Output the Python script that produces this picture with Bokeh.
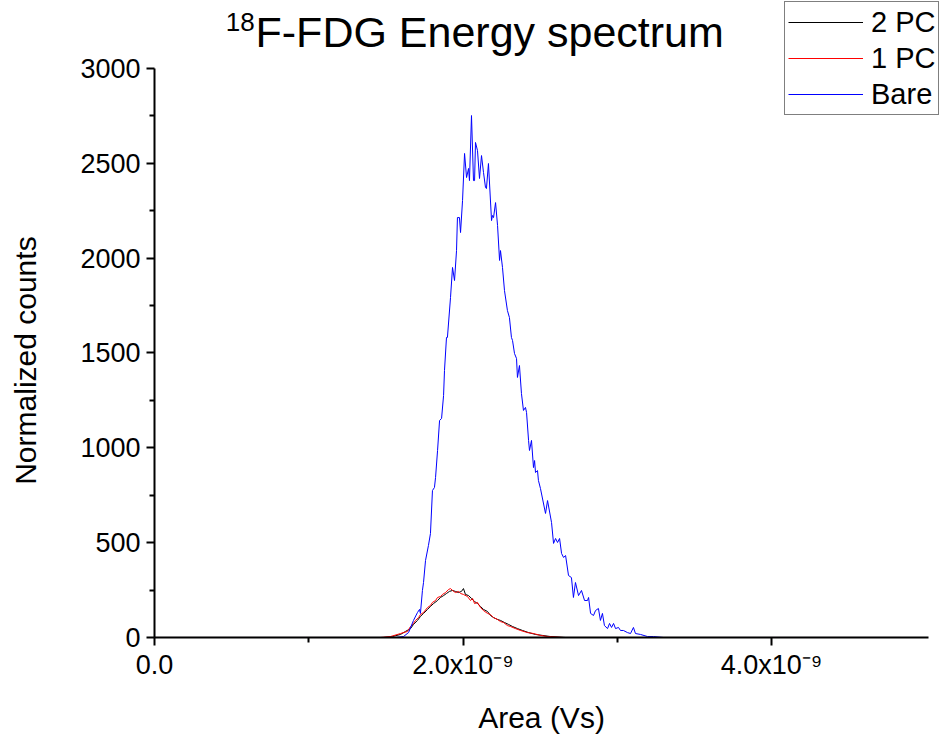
import math
from bokeh.plotting import figure
from bokeh.models import Range1d, FixedTicker, Legend, LegendItem, Label
from bokeh.embed import file_html
from bokeh.resources import INLINE

# x values in units of 1e-9 Vs, y values in normalized counts
x_2pc = [0.000, 1.485, 1.543, 1.595, 1.627, 1.660, 1.679, 1.705, 1.724, 1.744,
         1.770, 1.789, 1.809, 1.835, 1.854, 1.874, 1.893, 1.912, 1.932, 1.951,
         1.971, 1.990, 2.003, 2.016, 2.036, 2.055, 2.075, 2.094, 2.113, 2.133,
         2.159, 2.178, 2.198, 2.224, 2.243, 2.269, 2.295, 2.321, 2.353, 2.386,
         2.425, 2.470, 2.515, 2.567, 2.665, 4.836]
y_2pc = [0, 0, 5, 16, 32, 47, 69, 90, 111, 127,
         148, 164, 179, 195, 211, 221, 232, 243, 248, 243,
         237, 243, 258, 227, 221, 206, 190, 179, 164, 148,
         137, 116, 105, 95, 90, 79, 69, 58, 47, 37,
         26, 16, 11, 5, 0, 0]

x_1pc = [0.000, 1.465, 1.530, 1.595, 1.640, 1.660, 1.679, 1.692, 1.712, 1.724,
         1.744, 1.770, 1.789, 1.802, 1.822, 1.835, 1.854, 1.867, 1.887, 1.906,
         1.919, 1.932, 1.951, 1.971, 1.984, 2.003, 2.029, 2.049, 2.062, 2.075,
         2.094, 2.113, 2.133, 2.159, 2.178, 2.198, 2.224, 2.243, 2.263, 2.288,
         2.308, 2.340, 2.373, 2.418, 2.457, 2.502, 2.548, 2.652, 4.836]
y_1pc = [0, 0, 5, 21, 32, 58, 74, 90, 105, 121,
         132, 158, 169, 185, 195, 211, 216, 227, 237, 253,
         258, 248, 237, 243, 232, 227, 216, 195, 206, 179,
         185, 158, 142, 127, 121, 105, 95, 84, 79, 63,
         58, 47, 37, 26, 21, 11, 5, 0, 0]

x_bare = [0.000, 1.562, 1.614, 1.647, 1.679, 1.705, 1.718, 1.724, 1.737, 1.744,
          1.757, 1.776, 1.789, 1.802, 1.815, 1.822, 1.835, 1.848, 1.861, 1.874,
          1.880, 1.893, 1.899, 1.919, 1.932, 1.945, 1.958, 1.964, 1.977, 1.984,
          1.997, 2.010, 2.023, 2.036, 2.042, 2.055, 2.068, 2.075, 2.081, 2.094,
          2.107, 2.120, 2.133, 2.146, 2.152, 2.165, 2.185, 2.191, 2.198, 2.211,
          2.224, 2.237, 2.243, 2.256, 2.269, 2.288, 2.301, 2.314, 2.321, 2.334,
          2.347, 2.353, 2.366, 2.379, 2.392, 2.405, 2.412, 2.425, 2.431, 2.444,
          2.457, 2.464, 2.470, 2.483, 2.489, 2.502, 2.535, 2.548, 2.574, 2.587,
          2.600, 2.613, 2.626, 2.639, 2.652, 2.665, 2.684, 2.703, 2.716, 2.729,
          2.749, 2.768, 2.788, 2.807, 2.814, 2.827, 2.846, 2.859, 2.878, 2.891,
          2.904, 2.917, 2.937, 2.950, 2.963, 2.976, 2.989, 3.008, 3.021, 3.040,
          3.066, 3.086, 3.105, 3.118, 3.151, 3.196, 3.235, 3.300, 3.365, 4.836]
y_bare = [0, 0, 5, 26, 90, 132, 148, 127, 248, 290,
          406, 485, 548, 775, 791, 844, 986, 1144, 1155, 1276,
          1408, 1582, 1582, 1792, 1951, 1882, 2040, 2214, 2214, 2135,
          2304, 2552, 2425, 2473, 2409, 2752, 2409, 2409, 2610, 2567,
          2420, 2541, 2451, 2372, 2367, 2499, 2198, 2225, 2214, 2293,
          2172, 1988, 2040, 1951, 1829, 1724, 1687, 1582, 1566, 1497,
          1471, 1371, 1434, 1286, 1197, 1213, 1186, 1039, 986, 1039,
          896, 933, 870, 880, 828, 786, 654, 722, 606, 496,
          522, 501, 522, 443, 422, 432, 327, 316, 211, 290,
          221, 248, 195, 195, 211, 127, 116, 142, 153, 90,
          127, 63, 47, 74, 53, 74, 47, 53, 37, 37,
          26, 21, 53, 21, 16, 5, 5, 0, 0, 0]

series_names = ["2 PC", "1 PC", "Bare"]
series_colors = ["#000000", "#FF0000", "#0000FF"]

x_major = [0, 2, 4]
x_minor = [1, 3]
x_labels = ["0.0", "2.0x10\u207b\u2079", "4.0x10\u207b\u2079"]
y_major = [0, 500, 1000, 1500, 2000, 2500, 3000]
y_minor = [250, 750, 1250, 1750, 2250, 2750]
x_axis_end = 5.02
y_axis_end = 3000

FONT = "Liberation Sans"

# frame fills the whole canvas; axes are pinned at x=0 / y=0
p = figure(width=939, height=735, x_range=Range1d(-0.9984, 5.0891),
           y_range=Range1d(-516.7, 3358.5),
           output_backend="svg", toolbar_location=None, title=None,
           min_border_left=0, min_border_right=0, min_border_top=0, min_border_bottom=0)
p.outline_line_color = None
p.xgrid.visible = False
p.ygrid.visible = False
p.background_fill_color = "white"
p.border_fill_color = "white"

renderers = []
for xs, ys, c in [(x_2pc, y_2pc, series_colors[0]), (x_1pc, y_1pc, series_colors[1]),
                  (x_bare, y_bare, series_colors[2])]:
    renderers.append(p.line(xs, ys, color=c, line_width=1))

for ax in (p.xaxis[0], p.yaxis[0]):
    ax.axis_line_width = 2
    ax.axis_line_color = "black"
    ax.major_tick_line_width = 2
    ax.minor_tick_line_width = 2
    ax.major_tick_in = 0
    ax.major_tick_out = 8
    ax.minor_tick_in = 0
    ax.minor_tick_out = 5
    ax.major_label_text_font = FONT
    ax.major_label_text_color = "black"
    ax.major_label_text_font_size = "27px"

p.yaxis.ticker = FixedTicker(ticks=y_major, minor_ticks=y_minor)
p.yaxis.bounds = (0, y_axis_end)
p.yaxis.fixed_location = 0
p.yaxis.major_label_standoff = 6

p.xaxis.ticker = FixedTicker(ticks=x_major, minor_ticks=x_minor)
p.xaxis.bounds = (0, x_axis_end)
p.xaxis.fixed_location = 0
p.xaxis.major_label_standoff = 5
p.xaxis.major_label_overrides = dict(zip(x_major, x_labels))

p.add_layout(Label(x=2.509, y=-422, text="Area (Vs)", text_align="center",
                   text_baseline="middle", text_font=FONT, text_font_size="30px",
                   text_color="black"))
p.add_layout(Label(x=-0.836, y=1460, text="Normalized counts", angle=math.pi / 2,
                   text_align="center", text_baseline="middle", text_font=FONT,
                   text_font_size="30px", text_color="black"))

# title with superscript
p.add_layout(Label(x=0.655, y=3190, text="F-FDG Energy spectrum", text_align="left",
                   text_baseline="alphabetic", text_font=FONT, text_font_size="43px",
                   text_color="black"))
p.add_layout(Label(x=0.650, y=3246, text="18", text_align="right",
                   text_baseline="alphabetic", text_font=FONT, text_font_size="26px",
                   text_color="black"))

legend = Legend(items=[LegendItem(label=n, renderers=[r], index=0)
                       for n, r in zip(series_names, renderers)],
                location=(784, 620))
legend.label_text_font = FONT
legend.label_text_font_size = "29px"
legend.label_text_color = "black"
legend.glyph_width = 75
legend.glyph_height = 34
legend.label_height = 34
legend.label_standoff = 8
legend.spacing = 2
legend.padding = 3
legend.margin = 0
legend.border_line_color = "black"
legend.border_line_width = 1
legend.background_fill_color = "white"
legend.background_fill_alpha = 1
p.add_layout(legend, "center")

open("out.html", "w").write(file_html(p, INLINE))
